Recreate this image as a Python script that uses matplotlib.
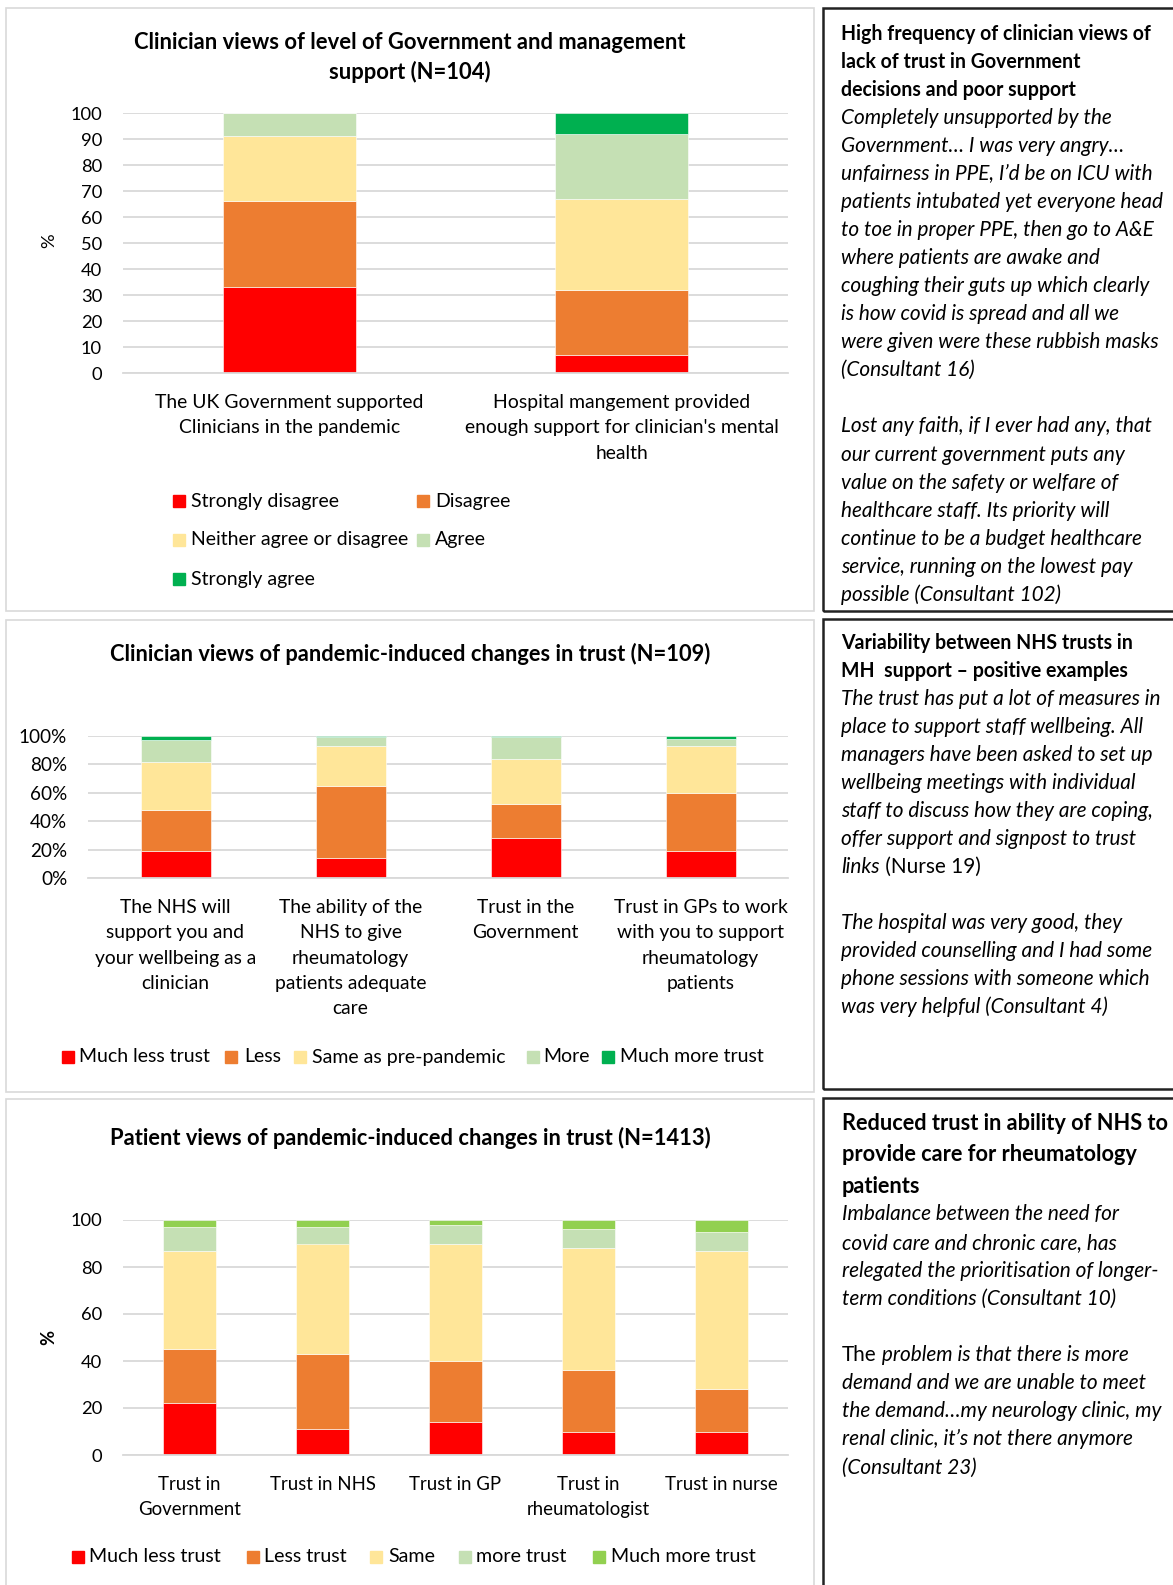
import matplotlib
matplotlib.use('Agg')
import matplotlib.pyplot as plt
from matplotlib.patches import Rectangle
import numpy as np

W, H, DPI = 1173, 1585, 100
FAM = ['Lato', 'DejaVu Sans']

# ---------------- DATA ----------------
c1_categories = ["The UK Government supported\nClinicians in the pandemic",
                 "Hospital mangement provided\nenough support for clinician's mental\nhealth"]
c1_series = ["Strongly disagree", "Disagree", "Neither agree or disagree", "Agree", "Strongly agree"]
c1_strongly_disagree = [33, 7]
c1_disagree = [33, 25]
c1_neither = [25, 35]
c1_agree = [9, 25]
c1_strongly_agree = [0, 8]

c2_categories = ["The NHS will\nsupport you and\nyour wellbeing as a\nclinician",
                 "The ability of the\nNHS to give\nrheumatology\npatients adequate\ncare",
                 "Trust in the\nGovernment",
                 "Trust in GPs to work\nwith you to support\nrheumatology\npatients"]
c2_series = ["Much less trust", "Less", "Same as pre-pandemic", "More", "Much more trust"]
c2_much_less = [0.19, 0.14, 0.28, 0.19]
c2_less = [0.29, 0.51, 0.24, 0.41]
c2_same = [0.34, 0.28, 0.32, 0.33]
c2_more = [0.15, 0.06, 0.15, 0.05]
c2_much_more = [0.03, 0.01, 0.01, 0.02]

c3_categories = ["Trust in\nGovernment", "Trust in NHS", "Trust in GP", "Trust in\nrheumatologist", "Trust in nurse"]
c3_series = ["Much less trust", "Less trust", "Same", "more trust", "Much more trust"]
c3_much_less = [22, 11, 14, 10, 10]
c3_less = [23, 32, 26, 26, 18]
c3_same = [42, 47, 50, 52, 59]
c3_more = [10, 7, 8, 8, 8]
c3_much_more = [3, 3, 2, 4, 5]

titles = ["Clinician views of level of Government and management\nsupport (N=104)",
          "Clinician views of pandemic-induced changes in trust (N=109)",
          "Patient views of pandemic-induced changes in trust (N=1413)"]

box1_lines = [("High frequency of clinician views of", 'b'),
              ("lack of trust in Government", 'b'),
              ("decisions and poor support", 'b'),
              ("Completely unsupported by the", 'i'),
              ("Government\u2026 I was very angry\u2026", 'i'),
              ("unfairness in PPE, I\u2019d be on ICU with", 'i'),
              ("patients intubated yet everyone head", 'i'),
              ("to toe in proper PPE, then go to A&E", 'i'),
              ("where patients are awake and", 'i'),
              ("coughing their guts up which clearly", 'i'),
              ("is how covid is spread and all we", 'i'),
              ("were given were these rubbish masks", 'i'),
              ("(Consultant 16)", 'i'),
              ("", 'i'),
              ("Lost any faith, if I ever had any, that", 'i'),
              ("our current government puts any", 'i'),
              ("value on the safety or welfare of", 'i'),
              ("healthcare staff. Its priority will", 'i'),
              ("continue to be a budget healthcare", 'i'),
              ("service, running on the lowest pay", 'i'),
              ("possible (Consultant 102)", 'i')]
box2_lines = [("Variability between NHS trusts in", 'b'),
              ("MH  support \u2013 positive examples", 'b'),
              ("The trust has put a lot of measures in", 'i'),
              ("place to support staff wellbeing. All", 'i'),
              ("managers have been asked to set up", 'i'),
              ("wellbeing meetings with individual", 'i'),
              ("staff to discuss how they are coping,", 'i'),
              ("offer support and signpost to trust", 'i'),
              ([("links", 'i'), (" (Nurse 19)", 'r')], 'mix'),
              ("", 'i'),
              ("The hospital was very good, they", 'i'),
              ("provided counselling and I had some", 'i'),
              ("phone sessions with someone which", 'i'),
              ("was very helpful (Consultant 4)", 'i')]
box3_title = ["Reduced trust in ability of NHS to", "provide care for rheumatology", "patients"]
box3_lines = [("Imbalance between the need for", 'i'),
              ("covid care and chronic care, has", 'i'),
              ("relegated the prioritisation of longer-", 'i'),
              ("term conditions (Consultant 10)", 'i'),
              ("", 'i'),
              ([("The", 'r'), (" problem is that there is more", 'i')], 'mix'),
              ("demand and we are unable to meet", 'i'),
              ("the demand\u2026my neurology clinic, my", 'i'),
              ("renal clinic, it\u2019s not there anymore", 'i'),
              ("(Consultant 23)", 'i')]

# ---------------- STYLE ----------------
C_RED = '#FF0000'
C_ORANGE = '#ED7D31'
C_YELLOW = '#FFE699'
C_LGREEN = '#C5E0B4'
C_GREEN = '#00B050'
C_LIME = '#92D050'
GRID = '#D9D9D9'
CAT_LS = 1.6
XPAD = 15

fig = plt.figure(figsize=(W / DPI, H / DPI), dpi=DPI)
renderer = fig.canvas.get_renderer()


def fx(x):
    return x / W


def fy(y):
    return 1 - y / H


def style_kw(s):
    if s == 'b':
        return dict(fontweight='bold', fontstyle='normal')
    if s == 'i':
        return dict(fontweight='normal', fontstyle='italic')
    return dict(fontweight='normal', fontstyle='normal')


def fit(text, target_px, st='r'):
    t = fig.text(0, 0, text, fontsize=10, family=FAM, **style_kw(st))
    w = t.get_window_extent(renderer).width
    t.remove()
    return 10 * target_px / w


def ptext(x, y, s, size, st='r', **kw):
    return fig.text(fx(x), fy(y), s, fontsize=size, family=FAM, color='black', **style_kw(st), **kw)


# font sizes fitted to measured widths in the reference
S_T1 = fit("Clinician views of level of Government and management", 553, 'b')
S_T2 = fit("Clinician views of pandemic-induced changes in trust (N=109)", 601, 'b')
S_T3 = fit("Patient views of pandemic-induced changes in trust (N=1413)", 601, 'b')
S_CAT1 = fit("The UK Government supported", 270)
S_LEG1 = fit("Strongly disagree", 148)
S_CAT2 = fit("Trust in GPs to work", 174)
S_LEG2 = fit("Much less trust", 131)
S_CAT3 = fit("Trust in NHS", 106)
S_LEG3 = fit("Much less trust", 132)
S_TICK1 = fit("100", 32)
S_TICK2 = fit("100%", 48)
S_BI = fit("patients intubated yet everyone head", 322, 'i')
S_BB = fit("High frequency of clinician views of", 311, 'b')
S_B3 = fit("Reduced trust in ability of NHS to", 327, 'b')

# ---------------- PANEL FRAMES ----------------
for (x0, y0, x1, y1) in [(6, 8, 814, 611), (6, 620, 814, 1092), (6, 1099, 814, 1590)]:
    fig.patches.append(Rectangle((fx(x0), fy(y1)), fx(x1 - x0), (y1 - y0) / H,
                                 transform=fig.transFigure, fill=False, edgecolor=GRID, lw=1.2))
for (x0, y0, x1, y1) in [(823, 8, 1180, 611), (823, 619, 1180, 1089), (823, 1098, 1180, 1595)]:
    fig.patches.append(Rectangle((fx(x0), fy(y1)), fx(x1 - x0), (y1 - y0) / H,
                                 transform=fig.transFigure, fill=False, edgecolor='#222222', lw=1.8))


def make_axes(l, r, t, b):
    ax = fig.add_axes([fx(l), fy(b), fx(r - l), (b - t) / H])
    for sp in ['top', 'right', 'left']:
        ax.spines[sp].set_visible(False)
    ax.spines['bottom'].set_color(GRID)
    ax.spines['bottom'].set_linewidth(1.3)
    ax.yaxis.grid(True, color=GRID, lw=1.3)
    ax.set_axisbelow(True)
    ax.tick_params(length=0)
    return ax


def stacked(ax, series, colors, width=0.4):
    x = np.arange(len(series[0]))
    bottom = np.zeros(len(x))
    for vals, c in zip(series, colors):
        v = np.array(vals, dtype=float)
        ax.bar(x, v, width, bottom=bottom, color=c, edgecolor='white', linewidth=0.4)
        bottom += v
    return x


def legend(items, size):
    for (sx, tx, y, label, c) in items:
        sq = 12
        fig.patches.append(Rectangle((fx(sx), fy(y + sq / 2)), sq / W, sq / H,
                                     transform=fig.transFigure, color=c))
        ptext(tx, y, label, size, va='center', ha='left')


# ---------------- CHART 1 ----------------
ax1 = make_axes(123, 788, 113, 373)
x = stacked(ax1, [c1_strongly_disagree, c1_disagree, c1_neither, c1_agree, c1_strongly_agree],
            [C_RED, C_ORANGE, C_YELLOW, C_LGREEN, C_GREEN])
ax1.set_xlim(-0.5, 1.5)
ax1.set_ylim(0, 100)
ax1.set_yticks(np.arange(0, 101, 10))
ax1.set_xticks(x)
ax1.set_xticklabels(c1_categories, fontsize=S_CAT1, family=FAM, linespacing=CAT_LS)
for lab in ax1.get_yticklabels():
    lab.set_fontsize(S_TICK1); lab.set_family(FAM)
ax1.tick_params(axis='y', pad=15)
ax1.tick_params(axis='x', pad=XPAD)
ptext(49, 241, "%", S_TICK1, rotation=90, ha='center', va='center')
ptext(410, 42.5, titles[0].split('\n')[0], S_T1, 'b', ha='center', va='center')
ptext(410, 71.5, titles[0].split('\n')[1], S_T1, 'b', ha='center', va='center')
legend([(173, 191, 501, c1_series[0], C_RED), (417, 435, 501, c1_series[1], C_ORANGE),
        (173, 191, 540, c1_series[2], C_YELLOW), (417, 435, 540, c1_series[3], C_LGREEN),
        (173, 191, 579, c1_series[4], C_GREEN)], S_LEG1)

# ---------------- CHART 2 ----------------
ax2 = make_axes(88, 788, 736, 878)
x = stacked(ax2, [c2_much_less, c2_less, c2_same, c2_more, c2_much_more],
            [C_RED, C_ORANGE, C_YELLOW, C_LGREEN, C_GREEN])
ax2.set_xlim(-0.5, 3.5)
ax2.set_ylim(0, 1)
ax2.set_yticks(np.arange(0, 1.01, 0.2))
ax2.set_yticklabels([f"{int(round(v * 100))}%" for v in np.arange(0, 1.01, 0.2)])
ax2.set_xticks(x)
ax2.set_xticklabels(c2_categories, fontsize=S_CAT2, family=FAM, linespacing=CAT_LS)
for lab in ax2.get_yticklabels():
    lab.set_fontsize(S_TICK2); lab.set_family(FAM)
ax2.tick_params(axis='y', pad=15)
ax2.tick_params(axis='x', pad=XPAD)
ptext(410, 653.5, titles[1], S_T2, 'b', ha='center', va='center')
legend([(62, 79, 1057, c2_series[0], C_RED), (225, 244, 1057, c2_series[1], C_ORANGE),
        (294, 312, 1057, c2_series[2], C_YELLOW), (527, 543, 1057, c2_series[3], C_LGREEN),
        (602, 620, 1057, c2_series[4], C_GREEN)], S_LEG2)

# ---------------- CHART 3 ----------------
ax3 = make_axes(123, 788, 1220, 1455)
x = stacked(ax3, [c3_much_less, c3_less, c3_same, c3_more, c3_much_more],
            [C_RED, C_ORANGE, C_YELLOW, C_LGREEN, C_LIME])
ax3.set_xlim(-0.5, 4.5)
ax3.set_ylim(0, 100)
ax3.set_yticks(np.arange(0, 101, 20))
ax3.set_xticks(x)
ax3.set_xticklabels(c3_categories, fontsize=S_CAT3, family=FAM, linespacing=CAT_LS)
for lab in ax3.get_yticklabels():
    lab.set_fontsize(S_TICK1); lab.set_family(FAM)
ax3.tick_params(axis='y', pad=15)
ax3.tick_params(axis='x', pad=XPAD)
ptext(49, 1337, "%", S_TICK1, 'b', rotation=90, ha='center', va='center')
ptext(410, 1137.5, titles[2], S_T3, 'b', ha='center', va='center')
legend([(72, 89, 1557, c3_series[0], C_RED), (247, 264, 1557, c3_series[1], C_ORANGE),
        (370, 388, 1557, c3_series[2], C_YELLOW), (459, 476, 1557, c3_series[3], C_LGREEN),
        (593, 611, 1557, c3_series[4], C_LIME)], S_LEG3)


# ---------------- TEXT BOXES ----------------
def draw_lines(lines, x0, y0, step, sb, si):
    for k, (s, st) in enumerate(lines):
        y = y0 + k * step
        if st == 'mix':
            xx = x0
            for seg, sst in s:
                t = ptext(xx, y, seg, si, sst, va='center', ha='left')
                xx += t.get_window_extent(renderer).width
        elif s:
            ptext(x0, y, s, sb if st == 'b' else si, st, va='center', ha='left')


draw_lines(box1_lines, 841, 33.5, 28.07, S_BB, S_BI)
draw_lines(box2_lines, 841, 643.2, 28.0, S_BB, S_BI)
for k, s in enumerate(box3_title):
    ptext(842, 1123.5 + k * 31.4, s, S_B3, 'b', va='center', ha='left')
draw_lines(box3_lines, 842, 1214.5, 28.1, S_BB, S_BI)

fig.savefig('out.png', dpi=DPI)
